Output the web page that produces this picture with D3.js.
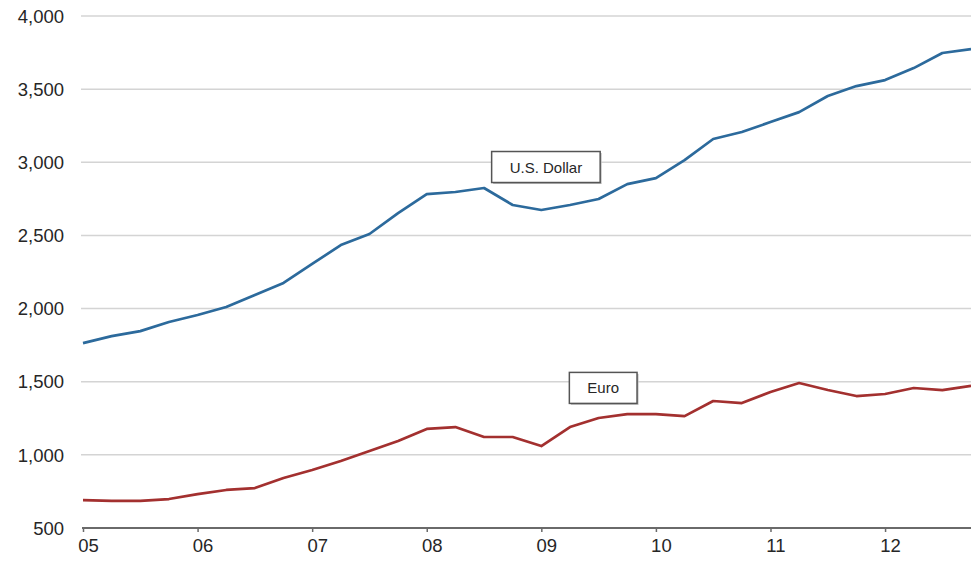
<!DOCTYPE html>
<html>
<head>
<meta charset="utf-8">
<script src="https://cdn.jsdelivr.net/npm/d3@7"></script>
<style>
  body { margin: 0; background: #fff; }
  svg { display: block; font-family: "Liberation Sans", Arial, Helvetica, sans-serif; }
</style>
</head>
<body>
<svg id="chart"></svg>
<script>
const width = 971,
  height = 565,
  margin = {top: 16, right: 0, bottom: 37, left: 83},
  blue = '#2c6a9c',
  red = '#a3302f',
  gridColor = '#d4d4d4',
  axisColor = '#6a6a6a'

// quarterly readings, 2005 Q1 .. 2012 Q4
const usDollar = [1764, 1812, 1846, 1908, 1956, 2011, 2093, 2175,
  2305, 2434, 2510, 2653, 2783, 2797, 2824, 2708,
  2674, 2708, 2749, 2851, 2892, 3015, 3159, 3207,
  3275, 3343, 3453, 3521, 3562, 3644, 3747, 3774]
const euro = [691, 685, 685, 698, 732, 760, 773, 842,
  896, 958, 1026, 1095, 1177, 1190, 1122, 1122,
  1060, 1190, 1252, 1279, 1279, 1265, 1368, 1354,
  1430, 1491, 1443, 1402, 1416, 1457, 1443, 1471]
const yearTicks = [2005, 2006, 2007, 2008, 2009, 2010, 2011, 2012]
const yTicks = [500, 1000, 1500, 2000, 2500, 3000, 3500, 4000]
const labels = [
  {name: 'U.S. Dollar', t: 2009.04, v: 2967},
  {name: 'Euro', t: 2009.54, v: 1457}
]

const quarters = d3.range(usDollar.length).map(i => 2005 + i / 4)

const x = d3.scaleLinear()
  .domain([2005, 2012.75])
  .range([margin.left, width - margin.right])

const y = d3.scaleLinear()
  .domain([500, 4000])
  .range([height - margin.bottom, margin.top])

const svg = d3.select('#chart')
  .attr('width', width)
  .attr('height', height)

// gridlines
svg.append('g')
  .selectAll('line')
  .data(yTicks.filter(d => d > 500))
  .join('line')
  .attr('x1', margin.left - 2)
  .attr('x2', width)
  .attr('y1', d => y(d))
  .attr('y2', d => y(d))
  .attr('stroke', gridColor)
  .attr('stroke-width', 1.5)

// y labels
svg.append('g')
  .selectAll('text')
  .data(yTicks)
  .join('text')
  .attr('x', 64)
  .attr('y', d => y(d))
  .attr('dy', '0.36em')
  .attr('text-anchor', 'end')
  .attr('font-size', 18.5)
  .attr('fill', '#262626')
  .text(d3.format(','))

// x axis
const xAxis = svg.append('g')
  .attr('transform', `translate(0,${y(500)})`)
  .call(d3.axisBottom(x).tickValues(yearTicks).tickSize(4)
    .tickFormat(d => String(d).slice(2)))

xAxis.select('.domain')
  .attr('stroke', axisColor)
  .attr('stroke-width', 2.2)
  .attr('d', `M${x(2005) - 1},0H${width}`)
xAxis.selectAll('.tick line')
  .attr('stroke', axisColor)
  .attr('stroke-width', 1.5)
xAxis.selectAll('.tick text')
  .attr('font-size', 18.5)
  .attr('font-family', '"Liberation Sans", Arial, sans-serif')
  .attr('fill', '#262626')
  .attr('dx', 5)
  .attr('y', 11)

// lines
const line = d3.line()
  .x((d, i) => x(quarters[i]))
  .y(d => y(d))

svg.append('path')
  .datum(usDollar)
  .attr('fill', 'none')
  .attr('stroke', blue)
  .attr('stroke-width', 2.7)
  .attr('stroke-linejoin', 'round')
  .attr('d', line)

svg.append('path')
  .datum(euro)
  .attr('fill', 'none')
  .attr('stroke', red)
  .attr('stroke-width', 2.7)
  .attr('stroke-linejoin', 'round')
  .attr('d', line)

// series labels in boxes
const lab = svg.append('g')
  .selectAll('g')
  .data(labels)
  .join('g')
  .attr('transform', d => `translate(${x(d.t)},${y(d.v)})`)

lab.append('text')
  .attr('text-anchor', 'middle')
  .attr('dy', '0.36em')
  .attr('font-size', 15)
  .attr('fill', '#262626')
  .text(d => d.name)

lab.each(function () {
  const g = d3.select(this)
  const bb = g.select('text').node().getBBox()
  const padX = 18, padY = 7
  g.insert('rect', 'text')
    .attr('x', bb.x - padX + 1.5)
    .attr('y', bb.y - padY + 1.5)
    .attr('width', bb.width + padX * 2)
    .attr('height', bb.height + padY * 2)
    .attr('fill', '#bdbdbd')
  g.insert('rect', 'text')
    .attr('x', bb.x - padX)
    .attr('y', bb.y - padY)
    .attr('width', bb.width + padX * 2)
    .attr('height', bb.height + padY * 2)
    .attr('fill', '#fff')
    .attr('stroke', '#555')
    .attr('stroke-width', 1.5)
})
</script>
</body>
</html>
